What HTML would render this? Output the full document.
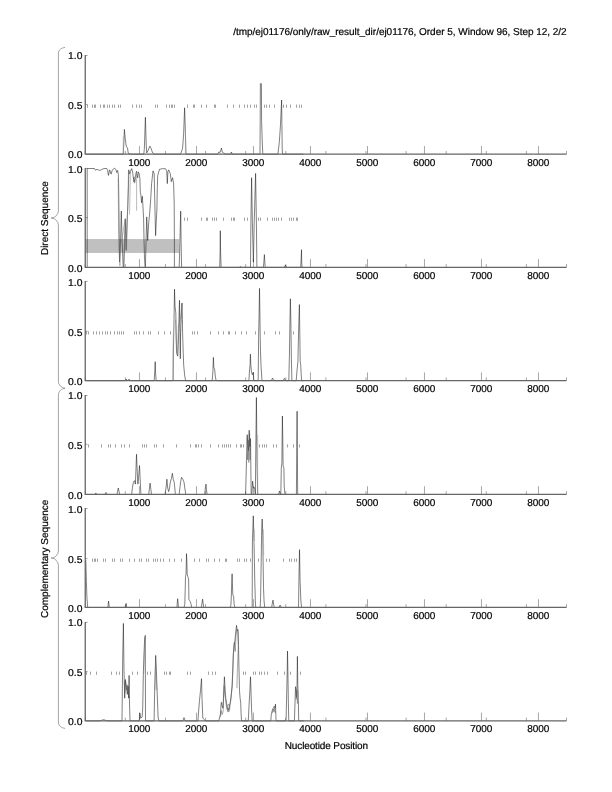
<!DOCTYPE html>
<html><head><meta charset="utf-8"><title>plot</title><style>html,body{margin:0;padding:0;background:#fff;width:612px;height:792px;overflow:hidden}svg{position:absolute;left:0;top:0;font-family:'Liberation Sans',sans-serif;font-size:10px;text-rendering:geometricPrecision;will-change:transform}text{fill:#000;stroke:#000;stroke-width:0.2px}</style></head><body>
<svg width="612" height="792" viewBox="0 0 612 792">
<rect width="612" height="792" fill="#fff"/>
<text x="566.6" y="34.7" text-anchor="end" textLength="333.4" lengthAdjust="spacing">/tmp/ej01176/only/raw_result_dir/ej01176, Order 5, Window 96, Step 12, 2/2</text>
<text x="326.4" y="749" text-anchor="middle" textLength="83.3" lengthAdjust="spacing">Nucleotide Position</text>
<text transform="translate(48.2,218.1) rotate(-90)" text-anchor="middle">Direct Sequence</text>
<text transform="translate(48.2,558.8) rotate(-90)" text-anchor="middle">Complementary Sequence</text>
<path d="M65.05,47.4 C61.5,47.9 58.4,49.9 58.4,53.0 L58.4,210.7 C58.4,214.5 55.2,217.2 52.7,218.0 L51.2,218.0 L52.7,218.0 C55.2,218.8 58.4,221.5 58.4,225.3 L58.4,381.4 C58.4,385.1 61.5,387.7 65.05,388.2" fill="none" stroke="#666" stroke-width="0.6"/>
<path d="M65.05,388.2 C61.5,388.7 58.4,391.3 58.4,395.0 L58.4,550.8 C58.4,554.6 55.2,557.3 52.7,558.1 L51.2,558.1 L52.7,558.1 C55.2,558.9 58.4,561.6 58.4,565.4 L58.4,722.6 C58.4,725.8 61.5,727.9 65.05,728.4" fill="none" stroke="#666" stroke-width="0.6"/>
<g id="panel1">
<path d="M87.5,104.6v3.2M92.5,104.6v3.2M94.5,104.6v3.2M95.5,104.6v3.2M100.5,104.6v3.2M103.5,104.6v3.2M104.5,104.6v3.2M107.5,104.6v3.2M109.5,104.6v3.2M112.5,104.6v3.2M114.5,104.6v3.2M118.5,104.6v3.2M120.5,104.6v3.2M132.5,104.6v3.2M136.5,104.6v3.2M139.5,104.6v3.2M141.5,104.6v3.2M155.5,104.6v3.2M157.5,104.6v3.2M166.5,104.6v3.2M169.5,104.6v3.2M171.5,104.6v3.2M172.5,104.6v3.2M174.5,104.6v3.2M187.5,104.6v3.2M193.5,104.6v3.2M194.5,104.6v3.2M201.5,104.6v3.2M206.5,104.6v3.2M214.5,104.6v3.2M215.5,104.6v3.2M227.5,104.6v3.2M233.5,104.6v3.2M239.5,104.6v3.2M244.5,104.6v3.2M247.5,104.6v3.2M250.5,104.6v3.2M254.5,104.6v3.2M256.5,104.6v3.2M264.5,104.6v3.2M266.5,104.6v3.2M269.5,104.6v3.2M274.5,104.6v3.2M283.5,104.6v3.2M286.5,104.6v3.2M290.5,104.6v3.2M296.5,104.6v3.2M299.5,104.6v3.2M301.5,104.6v3.2" stroke="#8a8a8a" stroke-width="0.8" fill="none"/>
<path d="M139.46,154.2v-8.2M196.46,154.2v-8.2M253.46,154.2v-8.2M310.46,154.2v-8.2M367.46,154.2v-8.2M424.46,154.2v-8.2M481.46,154.2v-8.2M538.46,154.2v-8.2M85.25,154.2v-3.2M125.35,154.2v-3.2M165.46,154.2v-3.2M205.56,154.2v-3.2M245.67,154.2v-3.2M285.77,154.2v-3.2M325.88,154.2v-3.2M365.98,154.2v-3.2M406.08,154.2v-3.2M446.19,154.2v-3.2M486.29,154.2v-3.2M526.40,154.2v-3.2M566.50,154.2v-3.2" stroke="#808080" stroke-width="0.7" fill="none"/>
<path d="M85.25,55.5h2.4M85.25,104.6h2.4" stroke="#808080" stroke-width="0.7" fill="none"/>
<polyline points="86.0,154.2 122.8,154.2 123.2,154.2 123.8,144.1 124.4,129.4 125.2,138.2 126.2,146.1 127.5,148.0 128.3,153.5 131.1,154.2 143.8,154.2 144.4,148.0 145.4,117.3 146.2,144.1 146.7,152.9 148.3,150.0 149.9,146.1 151.3,149.0 152.6,152.9 154.6,154.2 180.1,154.2 181.1,152.9 182.6,148.0 183.6,134.3 184.6,107.8 185.4,132.4 186.0,154.2 217.7,154.2 218.7,152.0 220.1,152.4 221.5,148.0 222.2,152.0 223.6,152.9 225.6,154.2 230.5,154.2 231.5,152.0 232.0,154.2 260.0,154.2 260.4,83.7 261.4,83.7 261.6,120.6 262.2,140.2 262.8,154.2 277.9,154.2 279.3,142.2 280.5,124.5 281.6,100.0 282.2,148.0 282.5,154.2 303.6,154.2" fill="none" stroke="#181818" stroke-width="0.55" stroke-linejoin="round"/>
<polyline points="123.2,154.2 123.2,136.3" fill="none" stroke="#999" stroke-width="0.5" stroke-linejoin="round"/>
<polyline points="185.4,154.2 185.4,126.5" fill="none" stroke="#999" stroke-width="0.5" stroke-linejoin="round"/>
<path d="M85.25,55.0V154.2H566.5" fill="none" stroke="#666" stroke-width="1.3"/>
<text x="82.4" y="58.95" text-anchor="end" textLength="14.4" lengthAdjust="spacingAndGlyphs">1.0</text>
<text x="82.4" y="108.75" text-anchor="end" textLength="14.4" lengthAdjust="spacingAndGlyphs">0.5</text>
<text x="82.4" y="158.00" text-anchor="end" textLength="14.4" lengthAdjust="spacingAndGlyphs">0.0</text>
<text x="139.3" y="165.7" text-anchor="middle" textLength="21.9" lengthAdjust="spacing">1000</text>
<text x="196.3" y="165.7" text-anchor="middle" textLength="21.9" lengthAdjust="spacing">2000</text>
<text x="253.3" y="165.7" text-anchor="middle" textLength="21.9" lengthAdjust="spacing">3000</text>
<text x="310.3" y="165.7" text-anchor="middle" textLength="21.9" lengthAdjust="spacing">4000</text>
<text x="367.3" y="165.7" text-anchor="middle" textLength="21.9" lengthAdjust="spacing">5000</text>
<text x="424.3" y="165.7" text-anchor="middle" textLength="21.9" lengthAdjust="spacing">6000</text>
<text x="481.3" y="165.7" text-anchor="middle" textLength="21.9" lengthAdjust="spacing">7000</text>
<text x="538.3" y="165.7" text-anchor="middle" textLength="21.9" lengthAdjust="spacing">8000</text>
</g>
<g id="panel2">
<rect x="85.4" y="239.05" width="93.8" height="13.9" fill="#c0c0c0"/>
<path d="M184.5,217.6v3.2M187.5,217.6v3.2M201.5,217.6v3.2M206.5,217.6v3.2M207.5,217.6v3.2M212.5,217.6v3.2M214.5,217.6v3.2M216.5,217.6v3.2M223.5,217.6v3.2M231.5,217.6v3.2M233.5,217.6v3.2M234.5,217.6v3.2M244.5,217.6v3.2M247.5,217.6v3.2M258.5,217.6v3.2M260.5,217.6v3.2M267.5,217.6v3.2M272.5,217.6v3.2M274.5,217.6v3.2M276.5,217.6v3.2M278.5,217.6v3.2M281.5,217.6v3.2M289.5,217.6v3.2M291.5,217.6v3.2M293.5,217.6v3.2M296.5,217.6v3.2M297.5,217.6v3.2" stroke="#8a8a8a" stroke-width="0.8" fill="none"/>
<path d="M139.46,267.3v-8.2M196.46,267.3v-8.2M253.46,267.3v-8.2M310.46,267.3v-8.2M367.46,267.3v-8.2M424.46,267.3v-8.2M481.46,267.3v-8.2M538.46,267.3v-8.2M85.25,267.3v-3.2M125.35,267.3v-3.2M165.46,267.3v-3.2M205.56,267.3v-3.2M245.67,267.3v-3.2M285.77,267.3v-3.2M325.88,267.3v-3.2M365.98,267.3v-3.2M406.08,267.3v-3.2M446.19,267.3v-3.2M486.29,267.3v-3.2M526.40,267.3v-3.2M566.50,267.3v-3.2" stroke="#808080" stroke-width="0.7" fill="none"/>
<path d="M85.25,168.4h2.4M85.25,217.6h2.4" stroke="#808080" stroke-width="0.7" fill="none"/>
<polyline points="87.2,267.4 87.2,168.5 94.5,168.5 95.4,170.2 97.0,169.3 99.7,170.5 101.5,169.6 103.0,168.9 105.0,168.4 106.9,168.6 107.6,170.5 108.5,175.4 109.5,169.9 110.2,171.0 111.1,174.1 112.2,170.5 113.4,168.9 114.7,168.2 116.0,169.9 116.7,172.5 117.6,170.5 118.3,174.5 118.6,183.6 119.1,222.8 119.5,262.0 120.5,242.4 121.3,211.1 122.2,242.4 123.2,267.4 123.8,267.4 124.6,242.4 125.2,218.9 126.2,250.3 127.1,222.8 127.8,205.4 128.5,185.7 128.7,169.9 129.5,173.9 130.4,171.3 131.7,168.6 132.7,172.6 133.4,177.8 134.0,181.8 135.0,179.1 136.1,172.6 136.6,171.3 137.1,175.2 137.7,177.8 138.3,171.9 139.2,173.9 139.9,179.1 140.3,192.3 140.9,194.9 141.6,202.8 142.3,196.2 142.9,205.4 143.6,218.6 144.0,239.6 144.5,258.0 145.0,265.9 145.4,267.4 146.0,242.4 146.7,216.9 147.7,240.5 148.7,222.8 149.7,213.0 150.7,199.3 151.6,183.6 153.0,170.9 154.2,173.8 154.6,193.4 155.0,211.1 155.6,235.6 156.2,222.8 156.9,209.1 157.3,187.5 157.7,175.8 159.5,169.3 162.4,168.7 165.4,168.7 166.7,170.9 167.3,183.6 167.9,171.8 168.7,169.9 170.3,173.8 171.3,181.6 172.6,177.7 173.6,183.6 174.2,203.2 174.4,242.4 174.4,267.4 179.2,267.4 179.9,242.4 180.7,211.1 181.1,242.4 181.6,267.4 204.0,267.4 219.7,267.4 220.1,252.2 220.3,230.7 220.6,252.2 221.1,267.4 239.3,267.4 240.3,266.4 241.3,267.4 250.5,267.4 250.9,222.8 251.6,177.7 252.4,222.8 253.4,262.0 254.2,222.8 255.6,173.4 256.4,222.8 256.9,267.4 263.4,267.4 264.0,260.1 264.4,254.6 264.8,262.0 265.2,267.4 284.4,267.4 285.4,265.0 286.4,267.4 300.7,267.4 301.2,258.1 301.5,249.7 301.7,262.0 302.0,267.4 303.6,267.4" fill="none" stroke="#181818" stroke-width="0.55" stroke-linejoin="round"/>
<polyline points="118.2,179.1 118.6,234.3 119.0,247.5 119.9,265.9 120.8,244.8 121.9,239.6 123.2,231.7 124.2,225.1 125.6,218.6 126.1,231.7 126.5,250.1 126.9,231.7 127.8,205.4 128.2,185.7 128.5,169.9" fill="none" stroke="#777" stroke-width="0.5" stroke-linejoin="round"/>
<polyline points="123.5,267.4 123.9,258.0 124.5,239.6 125.2,231.7 125.8,229.1" fill="none" stroke="#777" stroke-width="0.5" stroke-linejoin="round"/>
<polyline points="130.4,171.3 130.0,192.3 129.5,214.6" fill="none" stroke="#777" stroke-width="0.5" stroke-linejoin="round"/>
<polyline points="136.6,173.9 136.6,210.7" fill="none" stroke="#777" stroke-width="0.5" stroke-linejoin="round"/>
<polyline points="133.4,177.8 134.0,182.4 134.8,183.1 135.3,179.1 134.4,177.2 133.4,177.8" fill="none" stroke="#444" stroke-width="0.5" stroke-linejoin="round"/>
<path d="M85.25,167.9V267.3H566.5" fill="none" stroke="#666" stroke-width="1.3"/>
<text x="82.4" y="172.80" text-anchor="end" textLength="14.4" lengthAdjust="spacingAndGlyphs">1.0</text>
<text x="82.4" y="221.50" text-anchor="end" textLength="14.4" lengthAdjust="spacingAndGlyphs">0.5</text>
<text x="82.4" y="271.50" text-anchor="end" textLength="14.4" lengthAdjust="spacingAndGlyphs">0.0</text>
<text x="139.3" y="278.7" text-anchor="middle" textLength="21.9" lengthAdjust="spacing">1000</text>
<text x="196.3" y="278.7" text-anchor="middle" textLength="21.9" lengthAdjust="spacing">2000</text>
<text x="253.3" y="278.7" text-anchor="middle" textLength="21.9" lengthAdjust="spacing">3000</text>
<text x="310.3" y="278.7" text-anchor="middle" textLength="21.9" lengthAdjust="spacing">4000</text>
<text x="367.3" y="278.7" text-anchor="middle" textLength="21.9" lengthAdjust="spacing">5000</text>
<text x="424.3" y="278.7" text-anchor="middle" textLength="21.9" lengthAdjust="spacing">6000</text>
<text x="481.3" y="278.7" text-anchor="middle" textLength="21.9" lengthAdjust="spacing">7000</text>
<text x="538.3" y="278.7" text-anchor="middle" textLength="21.9" lengthAdjust="spacing">8000</text>
</g>
<g id="panel3">
<path d="M86.5,331.3v3.2M88.5,331.3v3.2M93.5,331.3v3.2M96.5,331.3v3.2M99.5,331.3v3.2M102.5,331.3v3.2M105.5,331.3v3.2M107.5,331.3v3.2M110.5,331.3v3.2M114.5,331.3v3.2M117.5,331.3v3.2M119.5,331.3v3.2M121.5,331.3v3.2M123.5,331.3v3.2M134.5,331.3v3.2M136.5,331.3v3.2M139.5,331.3v3.2M143.5,331.3v3.2M148.5,331.3v3.2M150.5,331.3v3.2M158.5,331.3v3.2M164.5,331.3v3.2M170.5,331.3v3.2M192.5,331.3v3.2M194.5,331.3v3.2M197.5,331.3v3.2M210.5,331.3v3.2M218.5,331.3v3.2M223.5,331.3v3.2M228.5,331.3v3.2M229.5,331.3v3.2M235.5,331.3v3.2M241.5,331.3v3.2M246.5,331.3v3.2M255.5,331.3v3.2M264.5,331.3v3.2M275.5,331.3v3.2M279.5,331.3v3.2M293.5,331.3v3.2" stroke="#8a8a8a" stroke-width="0.8" fill="none"/>
<path d="M139.46,380.6v-8.2M196.46,380.6v-8.2M253.46,380.6v-8.2M310.46,380.6v-8.2M367.46,380.6v-8.2M424.46,380.6v-8.2M481.46,380.6v-8.2M538.46,380.6v-8.2M85.25,380.6v-3.2M125.35,380.6v-3.2M165.46,380.6v-3.2M205.56,380.6v-3.2M245.67,380.6v-3.2M285.77,380.6v-3.2M325.88,380.6v-3.2M365.98,380.6v-3.2M406.08,380.6v-3.2M446.19,380.6v-3.2M486.29,380.6v-3.2M526.40,380.6v-3.2M566.50,380.6v-3.2" stroke="#808080" stroke-width="0.7" fill="none"/>
<path d="M85.25,281.4h2.4M85.25,331.3h2.4" stroke="#808080" stroke-width="0.7" fill="none"/>
<polyline points="86.0,380.7 125.2,380.7 126.2,379.0 127.5,380.7 129.1,379.2 130.7,380.7 154.2,380.7 154.8,371.1 155.2,361.7 155.6,373.1 156.2,380.7 172.6,380.7 173.2,380.7 173.4,352.2 174.0,319.4 174.5,289.2 175.0,306.2 175.8,312.8 176.2,332.5 176.5,350.9 177.1,354.8 177.8,356.1 178.2,345.6 178.7,332.5 179.1,312.8 179.5,300.3 179.7,319.4 180.0,332.5 180.3,358.7 180.5,339.1 181.1,319.4 181.6,308.9 182.0,303.0 182.4,319.4 182.6,332.5 183.2,352.2 183.7,365.3 184.7,375.8 185.7,380.7 204.0,380.7 212.2,380.7 212.9,371.1 213.4,357.4 213.8,367.2 214.6,369.2 215.4,377.0 216.2,380.7 248.9,380.7 249.4,372.2 250.1,364.5 250.4,354.2 250.8,364.5 251.5,372.2 252.4,374.8 253.3,372.2 253.8,380.7 258.2,380.7 258.4,359.3 258.6,337.4 259.1,314.2 259.5,288.4 259.9,314.2 260.2,336.1 260.5,351.6 261.0,365.8 261.8,378.0 262.0,380.7 271.3,380.7 272.6,378.0 273.8,380.7 283.0,380.7 284.4,378.4 285.6,380.7 288.8,380.7 289.4,356.7 289.9,324.5 290.4,298.8 290.9,324.5 291.4,359.3 291.9,380.7 296.2,380.7 297.1,369.6 297.9,361.9 298.4,340.0 298.9,320.7 299.4,304.6 299.8,333.5 300.2,361.9 300.7,364.5 301.2,374.8 301.7,380.7 303.7,380.7" fill="none" stroke="#181818" stroke-width="0.55" stroke-linejoin="round"/>
<polyline points="175.5,319.4 176.1,339.1 176.9,353.5 177.6,350.9 178.4,325.9 179.5,322.0 180.4,319.4 181.1,312.8 181.7,303.6 182.2,323.3" fill="none" stroke="#777" stroke-width="0.5" stroke-linejoin="round"/>
<polyline points="172.7,380.7 172.9,353.5 173.4,332.5" fill="none" stroke="#999" stroke-width="0.5" stroke-linejoin="round"/>
<path d="M85.25,280.9V380.6H566.5" fill="none" stroke="#666" stroke-width="1.3"/>
<text x="82.4" y="285.80" text-anchor="end" textLength="14.4" lengthAdjust="spacingAndGlyphs">1.0</text>
<text x="82.4" y="335.60" text-anchor="end" textLength="14.4" lengthAdjust="spacingAndGlyphs">0.5</text>
<text x="82.4" y="384.95" text-anchor="end" textLength="14.4" lengthAdjust="spacingAndGlyphs">0.0</text>
<text x="139.3" y="391.9" text-anchor="middle" textLength="21.9" lengthAdjust="spacing">1000</text>
<text x="196.3" y="391.9" text-anchor="middle" textLength="21.9" lengthAdjust="spacing">2000</text>
<text x="253.3" y="391.9" text-anchor="middle" textLength="21.9" lengthAdjust="spacing">3000</text>
<text x="310.3" y="391.9" text-anchor="middle" textLength="21.9" lengthAdjust="spacing">4000</text>
<text x="367.3" y="391.9" text-anchor="middle" textLength="21.9" lengthAdjust="spacing">5000</text>
<text x="424.3" y="391.9" text-anchor="middle" textLength="21.9" lengthAdjust="spacing">6000</text>
<text x="481.3" y="391.9" text-anchor="middle" textLength="21.9" lengthAdjust="spacing">7000</text>
<text x="538.3" y="391.9" text-anchor="middle" textLength="21.9" lengthAdjust="spacing">8000</text>
</g>
<g id="panel4">
<path d="M88.5,444.3v3.2M101.5,444.3v3.2M108.5,444.3v3.2M110.5,444.3v3.2M115.5,444.3v3.2M121.5,444.3v3.2M124.5,444.3v3.2M129.5,444.3v3.2M142.5,444.3v3.2M144.5,444.3v3.2M146.5,444.3v3.2M154.5,444.3v3.2M156.5,444.3v3.2M163.5,444.3v3.2M176.5,444.3v3.2M190.5,444.3v3.2M195.5,444.3v3.2M196.5,444.3v3.2M198.5,444.3v3.2M201.5,444.3v3.2M210.5,444.3v3.2M218.5,444.3v3.2M222.5,444.3v3.2M224.5,444.3v3.2M226.5,444.3v3.2M228.5,444.3v3.2M230.5,444.3v3.2M236.5,444.3v3.2M240.5,444.3v3.2M241.5,444.3v3.2M243.5,444.3v3.2M259.5,444.3v3.2M262.5,444.3v3.2M264.5,444.3v3.2M266.5,444.3v3.2M273.5,444.3v3.2M276.5,444.3v3.2M287.5,444.3v3.2M293.5,444.3v3.2M299.5,444.3v3.2" stroke="#8a8a8a" stroke-width="0.8" fill="none"/>
<path d="M139.46,494.4v-8.2M196.46,494.4v-8.2M253.46,494.4v-8.2M310.46,494.4v-8.2M367.46,494.4v-8.2M424.46,494.4v-8.2M481.46,494.4v-8.2M538.46,494.4v-8.2M85.25,494.4v-3.2M125.35,494.4v-3.2M165.46,494.4v-3.2M205.56,494.4v-3.2M245.67,494.4v-3.2M285.77,494.4v-3.2M325.88,494.4v-3.2M365.98,494.4v-3.2M406.08,494.4v-3.2M446.19,494.4v-3.2M486.29,494.4v-3.2M526.40,494.4v-3.2M566.50,494.4v-3.2" stroke="#808080" stroke-width="0.7" fill="none"/>
<path d="M85.25,395.5h2.4M85.25,444.3h2.4" stroke="#808080" stroke-width="0.7" fill="none"/>
<polyline points="86.0,494.5 94.8,494.5 95.8,492.9 96.9,494.5 104.8,494.5 106.0,492.4 107.1,494.5 116.9,494.5 117.7,491.0 118.3,488.0 118.9,491.0 119.7,494.5 131.6,494.5 132.4,488.0 133.4,482.2 134.6,480.6 135.4,484.1 136.0,468.4 136.5,454.3 137.1,468.4 137.9,484.1 138.7,476.3 139.5,465.5 140.1,478.2 140.9,494.5 148.7,494.5 149.5,488.0 150.1,483.1 150.7,488.0 151.5,494.5 165.0,494.5 166.0,488.0 166.9,479.2 167.7,488.0 168.7,491.6 169.5,488.0 170.3,482.2 171.5,478.2 172.4,473.3 173.2,479.2 174.2,482.2 174.8,488.0 175.4,494.5 179.1,494.5 180.1,486.1 180.9,480.2 181.6,477.3 182.8,479.2 184.0,482.2 184.8,488.0 185.8,494.5 204.0,494.5 204.6,494.5 205.4,488.0 206.0,484.1 206.5,490.0 207.1,494.5 245.6,494.5 246.5,459.8 247.2,434.7 247.9,446.7 248.5,450.6 249.2,430.2 249.8,446.7 250.5,438.6 250.9,472.9 251.2,494.5 251.8,494.5 252.6,481.2 253.4,488.0 254.6,487.6 255.4,494.5 255.6,468.4 256.4,397.5 257.1,468.4 257.7,494.5 278.5,494.5 279.5,491.0 280.5,494.5 280.8,494.5 281.3,468.2 281.9,463.0 282.1,441.1 282.4,416.0 282.8,441.1 283.1,465.6 283.9,468.2 284.2,486.2 285.0,494.5 296.4,494.5 296.8,447.5 297.1,411.2 297.3,447.5 297.7,494.5 303.7,494.5" fill="none" stroke="#181818" stroke-width="0.55" stroke-linejoin="round"/>
<polyline points="247.2,437.4 247.6,459.8 248.3,440.1 248.8,462.4 249.6,433.5 250.1,459.8 250.6,444.0" fill="none" stroke="#555" stroke-width="0.5" stroke-linejoin="round"/>
<polyline points="257.7,434.8 257.7,494.5" fill="none" stroke="#999" stroke-width="0.5" stroke-linejoin="round"/>
<path d="M85.25,395.0V494.4H566.5" fill="none" stroke="#666" stroke-width="1.3"/>
<text x="82.4" y="398.80" text-anchor="end" textLength="14.4" lengthAdjust="spacingAndGlyphs">1.0</text>
<text x="82.4" y="448.60" text-anchor="end" textLength="14.4" lengthAdjust="spacingAndGlyphs">0.5</text>
<text x="82.4" y="498.90" text-anchor="end" textLength="14.4" lengthAdjust="spacingAndGlyphs">0.0</text>
<text x="139.3" y="505.9" text-anchor="middle" textLength="21.9" lengthAdjust="spacing">1000</text>
<text x="196.3" y="505.9" text-anchor="middle" textLength="21.9" lengthAdjust="spacing">2000</text>
<text x="253.3" y="505.9" text-anchor="middle" textLength="21.9" lengthAdjust="spacing">3000</text>
<text x="310.3" y="505.9" text-anchor="middle" textLength="21.9" lengthAdjust="spacing">4000</text>
<text x="367.3" y="505.9" text-anchor="middle" textLength="21.9" lengthAdjust="spacing">5000</text>
<text x="424.3" y="505.9" text-anchor="middle" textLength="21.9" lengthAdjust="spacing">6000</text>
<text x="481.3" y="505.9" text-anchor="middle" textLength="21.9" lengthAdjust="spacing">7000</text>
<text x="538.3" y="505.9" text-anchor="middle" textLength="21.9" lengthAdjust="spacing">8000</text>
</g>
<g id="panel5">
<path d="M92.5,558.6v3.2M94.5,558.6v3.2M95.5,558.6v3.2M97.5,558.6v3.2M103.5,558.6v3.2M105.5,558.6v3.2M112.5,558.6v3.2M114.5,558.6v3.2M120.5,558.6v3.2M122.5,558.6v3.2M129.5,558.6v3.2M134.5,558.6v3.2M139.5,558.6v3.2M141.5,558.6v3.2M146.5,558.6v3.2M148.5,558.6v3.2M153.5,558.6v3.2M155.5,558.6v3.2M157.5,558.6v3.2M160.5,558.6v3.2M163.5,558.6v3.2M169.5,558.6v3.2M174.5,558.6v3.2M181.5,558.6v3.2M194.5,558.6v3.2M199.5,558.6v3.2M206.5,558.6v3.2M208.5,558.6v3.2M214.5,558.6v3.2M219.5,558.6v3.2M225.5,558.6v3.2M226.5,558.6v3.2M237.5,558.6v3.2M239.5,558.6v3.2M244.5,558.6v3.2M246.5,558.6v3.2M250.5,558.6v3.2M258.5,558.6v3.2M266.5,558.6v3.2M269.5,558.6v3.2M283.5,558.6v3.2M289.5,558.6v3.2M291.5,558.6v3.2M294.5,558.6v3.2M296.5,558.6v3.2" stroke="#8a8a8a" stroke-width="0.8" fill="none"/>
<path d="M139.46,607.4v-8.2M196.46,607.4v-8.2M253.46,607.4v-8.2M310.46,607.4v-8.2M367.46,607.4v-8.2M424.46,607.4v-8.2M481.46,607.4v-8.2M538.46,607.4v-8.2M85.25,607.4v-3.2M125.35,607.4v-3.2M165.46,607.4v-3.2M205.56,607.4v-3.2M245.67,607.4v-3.2M285.77,607.4v-3.2M325.88,607.4v-3.2M365.98,607.4v-3.2M406.08,607.4v-3.2M446.19,607.4v-3.2M486.29,607.4v-3.2M526.40,607.4v-3.2M566.50,607.4v-3.2" stroke="#808080" stroke-width="0.7" fill="none"/>
<path d="M85.25,508.5h2.4M85.25,558.6h2.4" stroke="#808080" stroke-width="0.7" fill="none"/>
<polyline points="85.8,559.9 86.4,581.4 86.9,597.1 87.7,607.5 107.9,607.5 108.3,603.0 108.6,601.0 108.9,604.0 109.3,607.5 125.2,607.5 125.8,605.0 126.2,603.4 126.5,607.5 176.9,607.5 177.4,601.0 177.7,598.7 178.1,603.0 178.5,607.5 184.0,607.5 184.8,604.1 185.3,585.8 185.5,576.6 186.0,574.3 186.3,562.9 186.5,553.7 186.9,562.9 187.2,574.3 187.8,576.6 188.6,578.9 188.8,591.5 188.9,599.5 189.7,600.6 190.3,601.8 190.9,603.5 191.7,607.5 201.3,607.5 202.0,603.0 202.6,599.1 203.2,604.0 203.8,607.5 204.0,607.5 228.5,607.5 230.1,607.5 230.9,605.2 231.4,594.9 231.7,583.5 232.1,573.8 232.4,583.5 232.8,594.9 233.6,596.1 234.1,604.1 234.9,607.5 252.2,607.5 252.4,542.2 253.3,515.8 254.0,542.2 254.4,561.5 254.8,582.2 255.3,600.2 255.7,607.5 260.2,607.5 260.6,597.6 261.2,561.5 261.7,529.3 262.2,519.0 262.8,535.8 263.1,561.5 263.5,587.3 264.0,600.2 264.7,607.5 271.6,607.5 272.4,603.0 273.0,600.1 273.6,604.0 274.2,607.5 278.9,607.5 280.1,605.0 281.3,607.5 298.5,607.5 298.9,581.4 299.5,549.7 300.1,581.4 300.9,601.0 301.6,607.5 303.6,607.5" fill="none" stroke="#181818" stroke-width="0.55" stroke-linejoin="round"/>
<polyline points="254.4,529.3 254.4,540.9" fill="none" stroke="#999" stroke-width="0.5" stroke-linejoin="round"/>
<polyline points="263.4,529.3 263.7,555.1" fill="none" stroke="#999" stroke-width="0.5" stroke-linejoin="round"/>
<path d="M85.25,508.0V607.4H566.5" fill="none" stroke="#666" stroke-width="1.3"/>
<text x="82.4" y="512.80" text-anchor="end" textLength="14.4" lengthAdjust="spacingAndGlyphs">1.0</text>
<text x="82.4" y="562.50" text-anchor="end" textLength="14.4" lengthAdjust="spacingAndGlyphs">0.5</text>
<text x="82.4" y="612.10" text-anchor="end" textLength="14.4" lengthAdjust="spacingAndGlyphs">0.0</text>
<text x="139.3" y="618.8" text-anchor="middle" textLength="21.9" lengthAdjust="spacing">1000</text>
<text x="196.3" y="618.8" text-anchor="middle" textLength="21.9" lengthAdjust="spacing">2000</text>
<text x="253.3" y="618.8" text-anchor="middle" textLength="21.9" lengthAdjust="spacing">3000</text>
<text x="310.3" y="618.8" text-anchor="middle" textLength="21.9" lengthAdjust="spacing">4000</text>
<text x="367.3" y="618.8" text-anchor="middle" textLength="21.9" lengthAdjust="spacing">5000</text>
<text x="424.3" y="618.8" text-anchor="middle" textLength="21.9" lengthAdjust="spacing">6000</text>
<text x="481.3" y="618.8" text-anchor="middle" textLength="21.9" lengthAdjust="spacing">7000</text>
<text x="538.3" y="618.8" text-anchor="middle" textLength="21.9" lengthAdjust="spacing">8000</text>
</g>
<g id="panel6">
<path d="M86.5,671.6v3.2M90.5,671.6v3.2M96.5,671.6v3.2M111.5,671.6v3.2M116.5,671.6v3.2M119.5,671.6v3.2M132.5,671.6v3.2M137.5,671.6v3.2M147.5,671.6v3.2M150.5,671.6v3.2M164.5,671.6v3.2M166.5,671.6v3.2M169.5,671.6v3.2M170.5,671.6v3.2M187.5,671.6v3.2M190.5,671.6v3.2M208.5,671.6v3.2M212.5,671.6v3.2M215.5,671.6v3.2M243.5,671.6v3.2M245.5,671.6v3.2M253.5,671.6v3.2M255.5,671.6v3.2M259.5,671.6v3.2M261.5,671.6v3.2M264.5,671.6v3.2M267.5,671.6v3.2M277.5,671.6v3.2M284.5,671.6v3.2M290.5,671.6v3.2M300.5,671.6v3.2" stroke="#8a8a8a" stroke-width="0.8" fill="none"/>
<path d="M139.46,720.8v-8.2M196.46,720.8v-8.2M253.46,720.8v-8.2M310.46,720.8v-8.2M367.46,720.8v-8.2M424.46,720.8v-8.2M481.46,720.8v-8.2M538.46,720.8v-8.2M85.25,720.8v-3.2M125.35,720.8v-3.2M165.46,720.8v-3.2M205.56,720.8v-3.2M245.67,720.8v-3.2M285.77,720.8v-3.2M325.88,720.8v-3.2M365.98,720.8v-3.2M406.08,720.8v-3.2M446.19,720.8v-3.2M486.29,720.8v-3.2M526.40,720.8v-3.2M566.50,720.8v-3.2" stroke="#808080" stroke-width="0.7" fill="none"/>
<path d="M85.25,622.4h2.4M85.25,671.6h2.4" stroke="#808080" stroke-width="0.7" fill="none"/>
<polyline points="86.0,720.9 99.7,720.9 103.6,719.7 107.5,720.9 122.0,720.9 122.7,658.2 123.4,623.4 124.0,671.5 124.3,680.9 124.7,698.2 125.4,679.5 126.0,684.8 126.7,687.6 127.3,694.4 128.0,686.2 128.7,698.2 129.1,675.4 129.4,698.2 130.0,720.9 139.4,720.9 139.8,712.9 140.7,718.2 142.1,717.0 142.7,708.9 143.4,671.5 144.1,651.5 144.7,638.0 145.3,635.4 145.4,674.8 145.5,720.9 154.1,720.9 154.5,698.2 155.2,671.5 155.7,655.4 156.4,671.5 157.2,692.9 158.1,717.0 158.8,720.9 182.8,720.9 184.0,717.6 185.2,720.9 197.9,720.9 198.7,710.1 199.5,700.3 200.5,690.5 201.5,678.7 202.0,698.4 202.8,718.0 204.2,719.5 205.4,720.9 218.7,720.9 219.5,718.0 220.5,714.0 221.1,704.2 221.5,702.3 222.2,706.2 223.0,708.2 223.6,694.4 224.4,676.8 225.2,690.5 225.8,698.4 226.4,702.3 227.3,708.2 228.3,710.1 229.3,706.2 230.3,702.3 231.3,694.4 232.2,686.6 232.8,670.9 233.2,655.2 234.0,645.4 234.8,641.5 235.6,633.6 236.5,625.4 237.3,630.7 238.1,629.7 238.5,645.4 238.9,665.0 239.5,690.5 240.1,698.4 240.7,702.3 241.1,714.0 241.5,720.9 248.3,720.9 249.1,704.2 249.9,690.5 250.5,676.8 251.1,694.4 251.6,710.1 252.2,720.9 270.8,720.9 271.3,714.2 272.4,710.0 273.4,707.9 274.3,706.3 275.0,707.9 275.5,704.2 275.8,714.2 276.1,720.9 285.6,720.9 286.1,718.5 286.7,694.1 287.2,671.8 287.5,651.1 287.9,671.8 288.3,698.3 288.6,714.2 288.8,720.9 294.4,720.9 294.8,708.9 295.5,686.7 296.0,689.8 296.5,697.3 297.0,687.7 297.4,656.4 297.8,684.5 298.3,698.3 298.7,720.9 303.7,720.9" fill="none" stroke="#181818" stroke-width="0.55" stroke-linejoin="round"/>
<polyline points="220.5,717.1 221.2,710.6 222.1,714.5 223.1,711.9 223.6,698.7 224.2,685.6 224.7,693.5 225.5,698.7 226.4,706.6 227.7,711.9 229.0,710.6 229.9,706.6 231.0,698.7 232.0,685.6 233.0,665.9 233.6,652.8 234.3,642.3 235.2,651.5 236.0,635.7 236.9,629.2 237.8,633.1 238.3,646.2 237.8,659.4 237.3,672.5 236.9,688.2" fill="none" stroke="#555" stroke-width="0.5" stroke-linejoin="round"/>
<polyline points="227.1,706.6 228.4,704.0 229.9,707.9 229.0,711.9 227.7,710.6 227.1,706.6" fill="none" stroke="#666" stroke-width="0.5" stroke-linejoin="round"/>
<polyline points="124.3,680.8 124.8,692.9 125.6,682.2 126.4,690.2 127.2,684.8 128.3,692.9 129.0,698.2" fill="none" stroke="#555" stroke-width="0.5" stroke-linejoin="round"/>
<polyline points="154.8,690.2 155.7,662.1 156.8,690.2" fill="none" stroke="#777" stroke-width="0.5" stroke-linejoin="round"/>
<polyline points="143.7,674.1 144.3,652.8 145.0,638.1" fill="none" stroke="#777" stroke-width="0.5" stroke-linejoin="round"/>
<polyline points="272.4,713.2 273.2,708.9 274.0,712.1 274.7,707.9 275.3,713.2" fill="none" stroke="#555" stroke-width="0.5" stroke-linejoin="round"/>
<polyline points="295.7,687.7 296.2,699.4 296.8,689.8 297.4,703.6 297.8,690.9" fill="none" stroke="#666" stroke-width="0.5" stroke-linejoin="round"/>
<path d="M85.25,621.9V720.8H566.5" fill="none" stroke="#666" stroke-width="1.3"/>
<text x="82.4" y="625.80" text-anchor="end" textLength="14.4" lengthAdjust="spacingAndGlyphs">1.0</text>
<text x="82.4" y="675.70" text-anchor="end" textLength="14.4" lengthAdjust="spacingAndGlyphs">0.5</text>
<text x="82.4" y="724.80" text-anchor="end" textLength="14.4" lengthAdjust="spacingAndGlyphs">0.0</text>
<text x="139.3" y="731.7" text-anchor="middle" textLength="21.9" lengthAdjust="spacing">1000</text>
<text x="196.3" y="731.7" text-anchor="middle" textLength="21.9" lengthAdjust="spacing">2000</text>
<text x="253.3" y="731.7" text-anchor="middle" textLength="21.9" lengthAdjust="spacing">3000</text>
<text x="310.3" y="731.7" text-anchor="middle" textLength="21.9" lengthAdjust="spacing">4000</text>
<text x="367.3" y="731.7" text-anchor="middle" textLength="21.9" lengthAdjust="spacing">5000</text>
<text x="424.3" y="731.7" text-anchor="middle" textLength="21.9" lengthAdjust="spacing">6000</text>
<text x="481.3" y="731.7" text-anchor="middle" textLength="21.9" lengthAdjust="spacing">7000</text>
<text x="538.3" y="731.7" text-anchor="middle" textLength="21.9" lengthAdjust="spacing">8000</text>
</g>
</svg>
</body></html>
